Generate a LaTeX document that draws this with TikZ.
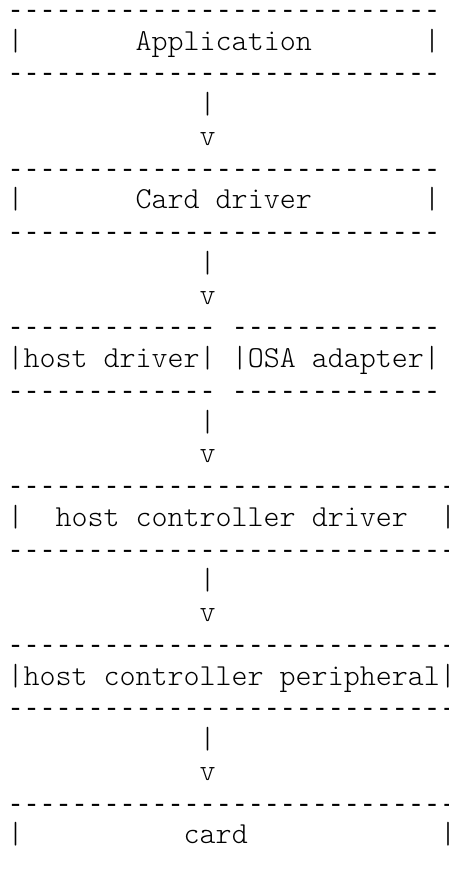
\documentclass[tikz,border=0pt]{standalone}
\usepackage{fontspec}
\setmonofont{Latin Modern Mono Light}
\newfontfamily\dashfont{Liberation Mono}
\newcommand\putt[4]{\node[txt] (#1) at ({7.5+#2*16.02},{-18.3-#3*31.75}) {#4};}
\newcommand\putd[4]{\node[txt,dashrow] (#1) at ({7.5+#2*16.02},{-18.3-#3*31.75}) {#4};}
\begin{document}
\begin{tikzpicture}[x=1pt,y=1pt,
  txt/.style={anchor=base west, inner sep=0pt, outer sep=0pt, text=black,
    font=\ttfamily\fontsize{30.5}{32}\selectfont},
  dashrow/.style={font=\dashfont\fontsize{26.7}{32}\selectfont}]
\useasboundingbox (0,0) rectangle (449,-869);
% Application
\putd{d0}{0}{0}{---------------------------}
\putt{b1l}{0}{1}{|}
\putt{app}{8}{1}{Application}
\putt{b1r}{26}{1}{|}
\putd{d2}{0}{2}{---------------------------}
\putt{s3}{12}{3}{|}
\putt{v4}{12}{4}{v}
% Card driver
\putd{d5}{0}{5}{---------------------------}
\putt{b6l}{0}{6}{|}
\putt{cdrv}{8}{6}{Card driver}
\putt{b6r}{26}{6}{|}
\putd{d7}{0}{7}{---------------------------}
\putt{s8}{12}{8}{|}
\putt{v9}{12}{9}{v}
% host driver / OSA adapter
\putd{d10a}{0}{10}{-------------}
\putd{d10b}{14}{10}{-------------}
\putt{hdrv}{0}{11}{|host driver|}
\putt{osa}{14}{11}{|OSA adapter|}
\putd{d12a}{0}{12}{-------------}
\putd{d12b}{14}{12}{-------------}
\putt{s13}{12}{13}{|}
\putt{v14}{12}{14}{v}
% host controller driver
\putd{d15}{0}{15}{----------------------------}
\putt{b16l}{0}{16}{|}
\putt{hcd}{3}{16}{host controller driver}
\putt{b16r}{27}{16}{|}
\putd{d17}{0}{17}{----------------------------}
\putt{s18}{12}{18}{|}
\putt{v19}{12}{19}{v}
% host controller peripheral
\putd{d20}{0}{20}{----------------------------}
\putt{hcp}{0}{21}{|host controller peripheral|}
\putd{d22}{0}{22}{----------------------------}
\putt{s23}{12}{23}{|}
\putt{v24}{12}{24}{v}
% card
\putd{d25}{0}{25}{----------------------------}
\putt{b26l}{0}{26}{|}
\putt{card}{11}{26}{card}
\putt{b26r}{27}{26}{|}
\end{tikzpicture}
\end{document}
